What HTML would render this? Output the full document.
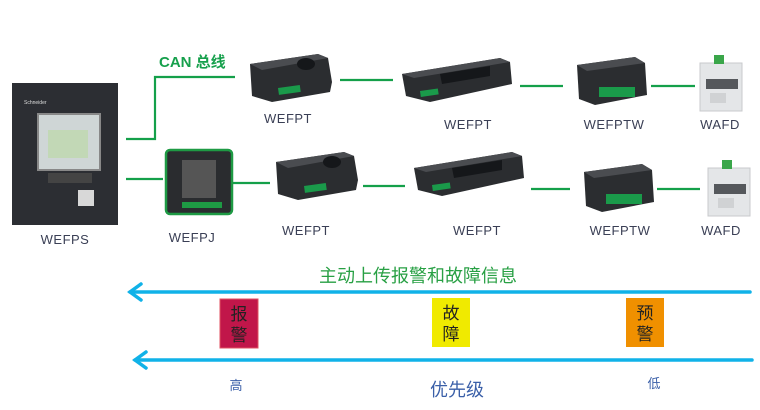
<!DOCTYPE html>
<html><head><meta charset="utf-8"><style>
html,body{margin:0;padding:0;background:#fff;width:760px;height:410px;overflow:hidden}
svg{display:block}
.lbl{font-family:"Liberation Sans",sans-serif;font-size:13px;fill:#3a3f55;text-anchor:middle;letter-spacing:0.5px}
.cjk{font-family:"Liberation Sans","Noto Sans CJK SC",sans-serif}
</style></head><body>
<svg width="760" height="410" viewBox="0 0 760 410" xmlns="http://www.w3.org/2000/svg">
<defs>
<g id="pt">
 <path d="M2 12 L70 2 L80 6 L84 30 L82 40 L24 50 L4 44 Z" fill="#2b2d30"/>
 <path d="M2 12 L70 2 L80 6 L14 18 Z" fill="#4a4c50"/>
 <ellipse cx="58" cy="12" rx="9" ry="6" fill="#15171a"/>
 <rect x="30" y="36" width="22" height="7" fill="#1a9a4a" transform="rotate(-8 30 36)"/>
</g>
<g id="ptl">
 <path d="M2 18 L100 2 L110 6 L112 28 L30 46 L6 40 Z" fill="#2b2d30"/>
 <path d="M2 18 L100 2 L110 6 L14 22 Z" fill="#4a4c50"/>
 <path d="M40 18 L90 10 L90 20 L42 28 Z" fill="#15171a"/>
 <rect x="20" y="35" width="18" height="6" fill="#1a9a4a" transform="rotate(-8 20 35)"/>
</g>
<g id="ptw">
 <path d="M2 10 L60 2 L70 8 L72 40 L20 50 L4 44 Z" fill="#2b2d30"/>
 <path d="M2 10 L60 2 L70 8 L12 16 Z" fill="#4a4c50"/>
 <rect x="24" y="32" width="36" height="10" fill="#1a9a4a"/>
</g>
<g id="afd">
 <rect x="0" y="8" width="42" height="48" fill="#e4e6e8" stroke="#c8cacc"/>
 <rect x="14" y="0" width="10" height="9" fill="#3aa64a"/>
 <rect x="6" y="24" width="32" height="10" fill="#55585c"/>
 <rect x="10" y="38" width="16" height="10" fill="#d0d2d4"/>
</g>
</defs>

<!-- cabinet -->
<rect x="12" y="83" width="106" height="142" fill="#2c2e33"/>
<rect x="38" y="114" width="62" height="56" fill="#cfd6d6" stroke="#888" stroke-width="2"/>
<rect x="48" y="130" width="40" height="28" fill="#b9d8a0" opacity="0.6"/>
<rect x="48" y="173" width="44" height="10" fill="#444"/>
<rect x="78" y="190" width="16" height="16" fill="#d8d8d8"/>
<text x="24" y="104" font-size="5" fill="#ddd" font-family="Liberation Sans">Schneider</text>
<text class="lbl" x="65" y="244">WEFPS</text>

<!-- connectors -->
<g stroke="#14a04a" stroke-width="2.2" fill="none">
 <polyline points="126,139 155,139 155,77 235,77"/>
 <line x1="340" y1="80" x2="393" y2="80"/>
 <line x1="520" y1="86" x2="563" y2="86"/>
 <line x1="651" y1="86" x2="695" y2="86"/>
 <line x1="126" y1="179" x2="163" y2="179"/>
 <line x1="231" y1="183" x2="270" y2="183"/>
 <line x1="363" y1="186" x2="405" y2="186"/>
 <line x1="531" y1="189" x2="570" y2="189"/>
 <line x1="657" y1="189" x2="700" y2="189"/>
</g>
<text class="cjk" x="159" y="67" font-size="15" fill="#16a04c" font-weight="bold">CAN 总线</text>

<!-- row 1 -->
<use href="#pt" x="248" y="52"/>
<text class="lbl" x="288" y="123">WEFPT</text>
<use href="#ptl" x="400" y="56"/>
<text class="lbl" x="468" y="129">WEFPT</text>
<use href="#ptw" x="575" y="55"/>
<text class="lbl" x="614" y="129">WEFPTW</text>
<use href="#afd" x="700" y="55"/>
<text class="lbl" x="720" y="129">WAFD</text>

<!-- row 2 -->
<rect x="166" y="150" width="66" height="64" rx="4" fill="#2a2c2f" stroke="#1e9a44" stroke-width="2.5"/>
<rect x="182" y="160" width="34" height="38" fill="#555"/>
<rect x="182" y="202" width="40" height="6" fill="#1e9a44"/>
<text class="lbl" x="192" y="242">WEFPJ</text>
<use href="#pt" x="274" y="150"/>
<text class="lbl" x="306" y="235">WEFPT</text>
<use href="#ptl" x="412" y="150"/>
<text class="lbl" x="477" y="235">WEFPT</text>
<use href="#ptw" x="582" y="162"/>
<text class="lbl" x="620" y="235">WEFPTW</text>
<use href="#afd" x="708" y="160"/>
<text class="lbl" x="721" y="235">WAFD</text>

<!-- arrows -->
<text class="cjk" x="418" y="282" font-size="18" fill="#28a044" text-anchor="middle">主动上传报警和故障信息</text>
<g stroke="#10b2e8" stroke-width="3.5" fill="none" stroke-linecap="round">
 <line x1="130" y1="292" x2="750" y2="292"/>
 <polyline points="141,284 130,292 141,300"/>
 <line x1="135" y1="360" x2="752" y2="360"/>
 <polyline points="146,352 135,360 146,368"/>
</g>

<rect x="220" y="299" width="38" height="49" fill="#c1164a" stroke="#e05060"/>
<text class="cjk" x="239" y="320" font-size="17" text-anchor="middle" fill="#222">报</text>
<text class="cjk" x="239" y="341" font-size="17" text-anchor="middle" fill="#222">警</text>
<rect x="432" y="298" width="38" height="49" fill="#f0ea00"/>
<text class="cjk" x="451" y="319" font-size="17" text-anchor="middle" fill="#222">故</text>
<text class="cjk" x="451" y="340" font-size="17" text-anchor="middle" fill="#222">障</text>
<rect x="626" y="298" width="38" height="49" fill="#f09000"/>
<text class="cjk" x="645" y="319" font-size="17" text-anchor="middle" fill="#222">预</text>
<text class="cjk" x="645" y="340" font-size="17" text-anchor="middle" fill="#222">警</text>

<text class="cjk" x="236" y="390" font-size="13" text-anchor="middle" fill="#3a5fa8">高</text>
<text class="cjk" x="457" y="396" font-size="18" text-anchor="middle" fill="#3a5fa8">优先级</text>
<text class="cjk" x="654" y="388" font-size="13" text-anchor="middle" fill="#3a5fa8">低</text>
</svg>
</body></html>
